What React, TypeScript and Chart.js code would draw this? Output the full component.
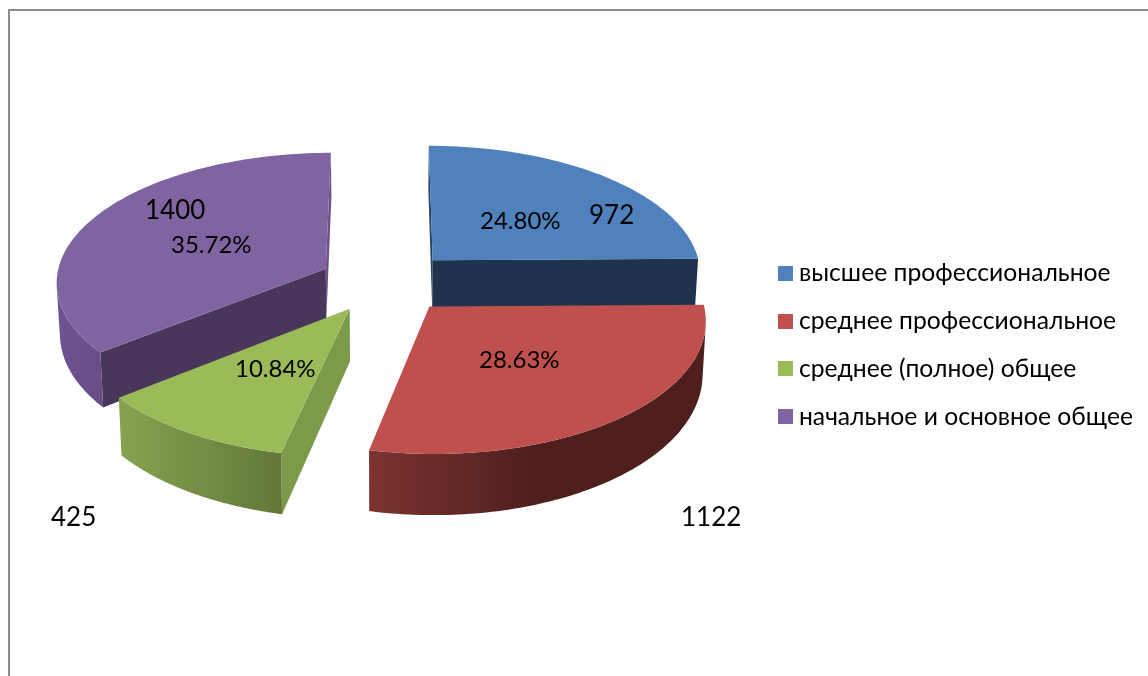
import React, { useEffect, useRef } from "react";
import { Chart, registerables } from "chart.js";

Chart.register(...registerables);

const categories = [
  "высшее профессиональное",
  "среднее профессиональное",
  "среднее (полное) общее",
  "начальное и основное общее",
];
const counts = [972, 1122, 425, 1400];
const topColors = ["#4f81bd", "#c0504d", "#9bbb59", "#8064a2"];
const startWallColors = ["#2a4468", "#1f334f", "#7c9a49", "#48375a"];
const endWallColors = ["#1f334f", "#7a3330", "#64793a", "#6b5388"];
const rimLeftColors = ["#1f334f", "#7b3431", "#87a351", "#6d5390"];
const rimRightColors = ["#1f334f", "#4f1f1e", "#637838", "#684e84"];
const rimLeftX = [430, 369, 118, 60];
const rimRightX = [700, 530, 281, 104];
const FONT = "Lato, Carlito, 'Noto Sans', sans-serif";

// perspective of the pie plane
const CX = 386, CY = 282, SX = 270, SY = 129, K = 0.093;
const EXPLODE_X = 0.25, EXPLODE_Y = 0.24;
const DEPTH = 51, DEPTH_K = 0.14, SHRINK = 0.99;

// [slice, kind, left, baseline]
const labelLayout: [number, "pct" | "n", number, number][] = [
  [0, "pct", 480, 229],
  [0, "n", 589, 224],
  [1, "pct", 479, 368],
  [1, "n", 681, 526],
  [2, "pct", 235, 377],
  [2, "n", 51, 526],
  [3, "n", 145, 219],
  [3, "pct", 171, 253],
];

function project(u: number, v: number, bottom: boolean): [number, number] {
  const w = 1 - K * v;
  let x = CX + (SX * u) / w;
  let y = CY + (SY * v) / w;
  if (bottom) {
    x = CX + (x - CX) * SHRINK;
    y += DEPTH / (1 - DEPTH_K * v);
  }
  return [x, y];
}

function swatch(color: string) {
  const c = document.createElement("canvas");
  c.width = 15;
  c.height = 15;
  const g = c.getContext("2d")!;
  g.fillStyle = color;
  g.fillRect(0, 0, 15, 15);
  return c;
}

function polygon(ctx: CanvasRenderingContext2D, pts: number[][]) {
  ctx.beginPath();
  pts.forEach((p, i) => (i ? ctx.lineTo(p[0], p[1]) : ctx.moveTo(p[0], p[1])));
  ctx.closePath();
}

function faceFront(a: number[], b: number[], c: number[], d: number[]) {
  const p = [a, b, c, d];
  let s = 0;
  for (let i = 0; i < 4; i++) {
    const q = p[(i + 1) % 4];
    s += p[i][0] * q[1] - q[0] * p[i][1];
  }
  return s < 0;
}

const pie3d = {
  id: "pie3d",
  beforeDatasetsDraw(chart: any) {
    const ctx: CanvasRenderingContext2D = chart.ctx;
    const arcs = chart.getDatasetMeta(0).data;
    const order = [0, 3, 2, 1];
    const STEPS = 96;
    for (const i of order) {
      const el = arcs[i];
      const { startAngle, endAngle } = el.getProps(["startAngle", "endAngle"], true);
      const mid = (startAngle + endAngle) / 2;
      const ou = EXPLODE_X * Math.cos(mid);
      const ov = EXPLODE_Y * Math.sin(mid);
      const at = (t: number, b: boolean) => project(ou + Math.cos(t), ov + Math.sin(t), b);
      const apexT = project(ou, ov, false);
      const apexB = project(ou, ov, true);

      const wall = (a: number[], b: number[], a2: number[], b2: number[], color: string) => {
        if (!faceFront(a, b, b2, a2)) return;
        polygon(ctx, [a, b, b2, a2]);
        ctx.fillStyle = color;
        ctx.fill();
      };
      wall(apexT, at(startAngle, false), apexB, at(startAngle, true), startWallColors[i]);
      wall(at(endAngle, false), apexT, at(endAngle, true), apexB, endWallColors[i]);

      const grad = ctx.createLinearGradient(rimLeftX[i], 0, rimRightX[i], 0);
      grad.addColorStop(0, rimLeftColors[i]);
      grad.addColorStop(1, rimRightColors[i]);
      ctx.fillStyle = grad;
      let upper: number[][] = [];
      let lower: number[][] = [];
      const flush = () => {
        if (upper.length > 1) {
          polygon(ctx, upper.concat(lower.reverse()));
          ctx.fill();
        }
        upper = [];
        lower = [];
      };
      for (let s = 0; s < STEPS; s++) {
        const t1 = startAngle + ((endAngle - startAngle) * s) / STEPS;
        const t2 = startAngle + ((endAngle - startAngle) * (s + 1)) / STEPS;
        const a = at(t1, false), b = at(t2, false), a2 = at(t1, true), b2 = at(t2, true);
        if (!faceFront(a, b, b2, a2)) {
          flush();
          continue;
        }
        if (!upper.length) {
          upper.push(a);
          lower.push(a2);
        }
        upper.push(b);
        lower.push(b2);
      }
      flush();

      const top: number[][] = [apexT];
      for (let s = 0; s <= STEPS; s++) {
        top.push(at(startAngle + ((endAngle - startAngle) * s) / STEPS, false));
      }
      polygon(ctx, top);
      ctx.fillStyle = topColors[i];
      ctx.fill();
    }
    return false;
  },
  afterDraw(chart: any) {
    const ctx: CanvasRenderingContext2D = chart.ctx;
    const total = counts.reduce((a, b) => a + b, 0);
    ctx.save();
    ctx.fillStyle = "#000";
    ctx.textAlign = "left";
    ctx.textBaseline = "alphabetic";
    for (const [i, kind, x, y] of labelLayout) {
      ctx.font = `${kind === "pct" ? 24 : 26}px ${FONT}`;
      const text = kind === "pct" ? ((counts[i] / total) * 100).toFixed(2) + "%" : String(counts[i]);
      ctx.fillText(text, x, y);
    }
    ctx.restore();
  },
};

export default function App() {
  const ref = useRef<HTMLCanvasElement>(null);
  useEffect(() => {
    const chart = new Chart(ref.current!, {
      type: "pie",
      data: {
        labels: categories,
        datasets: [{ data: counts, backgroundColor: topColors, borderWidth: 0 }],
      },
      options: {
        animation: false,
        responsive: false,
        events: [],
        layout: { padding: { top: 14, right: 5 } },
        plugins: {
          tooltip: { enabled: false },
          legend: {
            position: "right",
            labels: {
              usePointStyle: true,
              boxWidth: 2,
              boxHeight: 2,
              padding: 23,
              color: "#000",
              font: { family: FONT, size: 24.7 },
              generateLabels: () =>
                categories.map((text, i) => ({
                  text,
                  index: i,
                  fillStyle: topColors[i],
                  strokeStyle: topColors[i],
                  lineWidth: 0,
                  hidden: false,
                  pointStyle: swatch(topColors[i]),
                })),
            },
          },
        },
      } as any,
      plugins: [pie3d],
    });
    return () => chart.destroy();
  }, []);
  return (
    <div style={{ position: "absolute", left: 0, top: 0, width: 1148, height: 676, overflow: "hidden", background: "#fff" }}>
      <div
        style={{
          position: "absolute",
          left: 8,
          top: 9,
          width: 1140,
          height: 667,
          borderTop: "2px solid #8c8c8c",
          borderLeft: "2px solid #8c8c8c",
        }}
      />
      <canvas ref={ref} width={1148} height={676} style={{ position: "absolute", left: 0, top: 0, display: "block" }} />
    </div>
  );
}
